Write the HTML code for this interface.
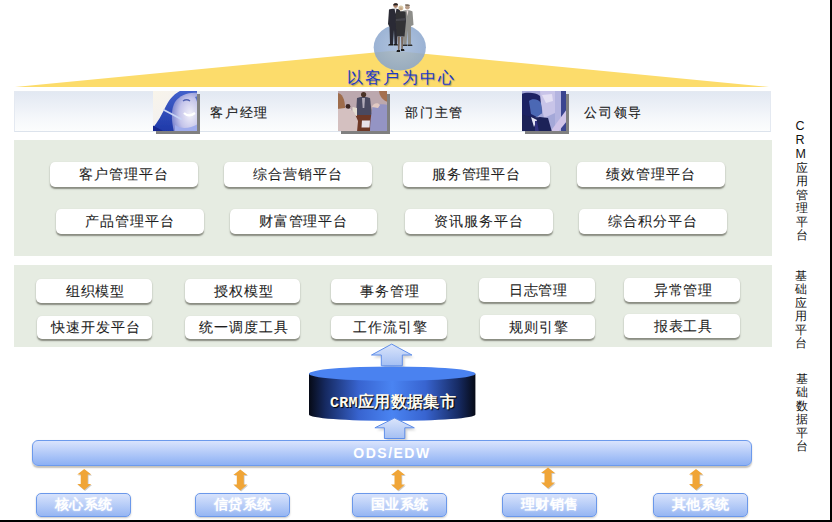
<!DOCTYPE html>
<html><head><meta charset="utf-8">
<style>
html,body{margin:0;padding:0;background:#fff;}
body{width:832px;height:522px;position:relative;overflow:hidden;font-family:"Liberation Sans",sans-serif;}
.a{position:absolute;}
.bR{position:absolute;right:0;top:0;width:2px;height:522px;background:#000;}
.bB{position:absolute;left:0;bottom:0;width:832px;height:2px;background:#000;}
.bar{position:absolute;left:14px;top:91px;width:755px;height:39px;border:1px solid #e4e9f1;border-bottom-color:#dce3ec;background:linear-gradient(#e2e8f2,#f6f8fb 70%,#fcfdfd);}
.ptxt{position:absolute;top:105px;font-size:13px;letter-spacing:1.8px;color:#1a1a1a;line-height:16px;white-space:nowrap;-webkit-text-stroke:0.15px #1a1a1a;}
.box{position:absolute;left:14px;width:758px;background:#e6ece2;}
.btn{position:absolute;background:#fff;border-radius:5px;box-shadow:0 1.5px 1.5px rgba(60,60,50,0.55);font-size:14px;letter-spacing:0.9px;color:#1e1e1e;text-align:center;white-space:nowrap;-webkit-text-stroke:0.08px #1e1e1e;}
.vt{position:absolute;left:793px;width:16px;font-size:12px;line-height:13.45px;color:#111;text-align:center;}
.sys{position:absolute;top:493px;width:93px;height:22px;border:1px solid #6b98ea;border-radius:5px;background:linear-gradient(#d8e3fc,#96b6f3);color:#fff;font-family:"Liberation Serif",serif;font-weight:bold;font-size:14px;line-height:22px;text-align:center;letter-spacing:0.5px;text-shadow:0 0 2px rgba(255,255,255,0.6);box-shadow:0 1px 2px rgba(0,0,0,0.22);}
</style></head>
<body>
<div class="bR"></div><div class="bB"></div>

<!-- yellow triangle -->
<svg class="a" style="left:0;top:0" width="832" height="100">
  <polygon points="15,87 393,50.7 769,87" fill="#fcdc6b"/>
  <defs><radialGradient id="cg" cx="0.5" cy="0.45" r="0.55"><stop offset="0" stop-color="#a4bad8"/><stop offset="1" stop-color="#88a4cc"/></radialGradient></defs><ellipse cx="399.8" cy="47.3" rx="26.1" ry="23.1" fill="url(#cg)" fill-opacity="0.86"/>
</svg>
<div class="a" style="left:346.5px;top:69px;font-size:16px;letter-spacing:2.4px;color:#1a36cc;line-height:18px;white-space:nowrap;text-shadow:1px 1px 1px rgba(80,80,80,0.5);">以客户为中心</div>

<!-- persona bar -->
<div class="bar"></div>
<div class="ptxt" style="left:210px">客户经理</div>
<div class="ptxt" style="left:405px">部门主管</div>
<div class="ptxt" style="left:584px">公司领导</div>


<!-- photos -->
<svg class="a" style="left:153px;top:91px;overflow:visible" width="44" height="40">
  <defs>
    <linearGradient id="wbg" x1="0" y1="0" x2="1" y2="1"><stop offset="0" stop-color="#f8f4ea"/><stop offset="1" stop-color="#eeeef6"/></linearGradient>
    <linearGradient id="whair" x1="0" y1="0" x2="0" y2="1"><stop offset="0" stop-color="#4462cc"/><stop offset="1" stop-color="#1e38a8"/></linearGradient>
    <radialGradient id="wface" cx="0.7" cy="0.55" r="0.7"><stop offset="0" stop-color="#f2f0fa"/><stop offset="0.6" stop-color="#c4c4ea"/><stop offset="1" stop-color="#8088d0"/></radialGradient>
    <filter id="wb" x="-10%" y="-10%" width="120%" height="120%"><feGaussianBlur stdDeviation="0.6"/></filter>
    <filter id="sb" x="-20%" y="-20%" width="140%" height="140%"><feGaussianBlur stdDeviation="0.5"/></filter>
    <clipPath id="wc"><rect width="44" height="40"/></clipPath>
  </defs>
  <rect x="3" y="3" width="44" height="40" fill="#808080" filter="url(#sb)"/>
  <rect width="44" height="40" fill="url(#wbg)"/>
  <g clip-path="url(#wc)" filter="url(#wb)">
  <path d="M-1,38 C5,31 9,23 13,15 C17,7 22,2 29,-1 L45,-1 L45,41 L-1,41 Z" fill="url(#whair)"/>
  <path d="M45,2 C36,1 27,4 22,11 C18,18 18,28 21,41 L45,41 Z" fill="url(#wface)"/><path d="M42,6 C44,9 45,14 45,18 L45,5 Z" fill="#5a70c8"/>
  <path d="M22,34 C28,38 36,38 45,33 L45,41 L22,41 Z" fill="#a0acec"/>
  <path d="M30,10 C32,8.5 35,8.5 37,10" stroke="#5060b0" stroke-width="1.4" fill="none"/>
  <path d="M31,22 C34,25 38,25 42,22" stroke="#ffffff" stroke-width="2.2" fill="none"/>
  <path d="M11,19 L28,28" stroke="#c8d4f4" stroke-width="1.8" stroke-linecap="round"/>
  <path d="M-1,34 L-1,41 L12,41 Z" fill="#14288e"/>
  </g>
</svg>
<svg class="a" style="left:338px;top:91px;overflow:visible" width="49" height="40">
  <defs><clipPath id="mc"><rect width="49" height="40"/></clipPath></defs>
  <rect x="3" y="3" width="49" height="40" fill="#808080" filter="url(#sb)"/>
  <rect width="49" height="40" fill="#b8a4aa"/>
  <g clip-path="url(#mc)" filter="url(#wb)">
  <rect width="49" height="18" fill="#bca8ae"/>
  <path d="M10,22 L36,22 L36,41 L8,41 Z" fill="#6e3828"/>
  <path d="M19,7 C21,5.5 30,5.5 32,7 L34,24 L18,24 Z" fill="#4a4a60"/>
  <circle cx="25.6" cy="3.6" r="2.6" fill="#4a3026"/>
  <path d="M24,7 L27,7 L26.3,17 L24.7,17 Z" fill="#b0aab8"/>
  <circle cx="10" cy="15.4" r="2.4" fill="#3a2624"/>
  <path d="M8,18 L13,18 L13,24 L7,24 Z" fill="#d8d0d4"/>
  <path d="M14.5,16 L19,17 L19,25 L14.5,24 Z" fill="#e4dcd0"/>
  <path d="M24,29.5 L32,29.5 L31.5,36.6 L23.5,36.6 Z" fill="#e8e2ea"/>
  <path d="M-1,17 C6,16 12,18 16,21 L20,30 L19,41 L-1,41 Z" fill="#d4c0c0"/>
  <path d="M-1,2 C4,2 7,8 7,17 L-1,18 Z" fill="#9e6c4c"/>
  <path d="M35,15 C40,13 46,13 50,14 L50,41 L32,41 C32,32 33,22 35,15 Z" fill="#9494c4"/>
  <path d="M41,-1 L50,-1 L50,11 C46,10 41,6 41,-1 Z" fill="#a47050"/>
  <path d="M34,16 C35,12 40,11 42,14 L40,17 Z" fill="#e2cac2"/>
  </g>
</svg>
<svg class="a" style="left:522px;top:91px;overflow:visible" width="44" height="40">
  <defs><clipPath id="jc"><rect width="44" height="40"/></clipPath></defs>
  <rect x="3" y="3" width="44" height="40" fill="#808080" filter="url(#sb)"/>
  <rect width="44" height="40" fill="#a4a8d8"/>
  <g clip-path="url(#jc)" filter="url(#wb)">
  <path d="M18,0 L33,0 L33,22 L22,27 L19,12 Z" fill="#c8c4e8"/>
  <path d="M20,4 L30,3 L31,10 L24,12 Z" fill="#e4e0f4"/>
  <path d="M33,0 L39,0 L39,40 L33,40 Z" fill="#b4b4e0"/>
  <path d="M39,0 L45,0 L45,40 L39,40 Z" fill="#3a4490"/>
  <path d="M45,18 L45,30 L36,41 L28,41 Z" fill="#d0c4e8"/>
  <path d="M-1,3 C4,1 14,1 18,5 L20,22 L12,27 L-1,26 Z" fill="#1e2264"/>
  <path d="M7,10 C10,7 17,8 19,12 L20,22 L15,26 L9,23 Z" fill="#4c68b4"/>
  <path d="M-1,23 C6,25 12,27 18,26 L26,27 L30,41 L-1,41 Z" fill="#1c2058"/>
  <path d="M9,26 L15,29 L12,36 Z" fill="#e4e4f4"/>
  <path d="M13,30 L15,30 L17,41 L13,41 Z" fill="#303080"/>
  </g>
</svg>
<!-- people -->
<svg class="a" style="left:380px;top:0px" width="40" height="56">
  <defs><filter id="pb" x="-20%" y="-10%" width="140%" height="120%"><feGaussianBlur stdDeviation="0.35"/></filter></defs>
  <g filter="url(#pb)">
  <!-- right man grey -->
  <path d="M22.5,11 C24,10 31,10 32.5,11.5 L33.5,25 L31,26 L31,44.5 L28,44.5 L27.5,30 L26.5,44.5 L23.5,44.5 L23,26 Z" fill="#8e8e8a"/>
  <circle cx="27.4" cy="7.3" r="2.3" fill="#b89c88"/>
  <path d="M25,4.6 C26,4 29,4 30,5.2 L29.5,6 L25.5,6 Z" fill="#807060"/>
  <path d="M26.5,10.5 L28.3,10.5 L27.6,16 Z" fill="#e8dcdc"/>
  <path d="M22.5,44.5 L27,44.5 L27,46 L22,46 Z M27.5,44.5 L32,44.5 L32.5,46 L27.5,46 Z" fill="#2a2a2a"/>
  <!-- left man dark -->
  <path d="M9,9.5 C10.5,8.5 18,8.5 20,9.5 L20,27 L17.5,28 L17,44 L14.5,44 L14,30 L13,44 L10,44 L9.5,27 L8,24 Z" fill="#2c2c34"/>
  <circle cx="15.6" cy="5.6" r="2.3" fill="#b08870"/>
  <path d="M13.2,4.8 C13.5,2.8 17.5,2.6 18,4.6 L17.6,5.2 L13.6,5.4 Z" fill="#282020"/>
  <path d="M14.6,9 L16.4,9 L15.6,14 Z" fill="#e0e0e6"/>
  <path d="M9,44 L13.5,44 L13.5,45.6 L8,45.6 Z M14,44 L17.5,44 L18,45.6 L14,45.6 Z" fill="#1e1e1e"/>
  <!-- woman -->
  <path d="M16,12 C17.5,11 24,11 25.5,12 L26,21 L24.5,36.5 L16.5,36.5 L15.5,21 Z" fill="#303036"/>
  <path d="M16,19 L25.5,18 L25.5,20.5 L16,21 Z" fill="#45454c"/>
  <path d="M17.5,36.5 L20,36.5 L19.5,50 L18,50 Z M21,36.5 L23.5,36.5 L22.8,49 L21.3,49 Z" fill="#7a6a60"/>
  <path d="M17,50 L20,50 L20,52 L16.5,52 Z M21,49 L24,49 L24.5,51 L21,51 Z" fill="#1a1a1a"/>
  <circle cx="20.9" cy="8" r="2.5" fill="#d6c6a4"/>
  <circle cx="20.9" cy="8.8" r="1.5" fill="#c8a888"/>
  </g>
</svg>

<!-- CRM app platform -->
<div class="box" style="top:140px;height:116px"></div>
<div class="btn" style="left:50px;top:162px;width:148px;height:25px;line-height:25px">客户管理平台</div>
<div class="btn" style="left:224px;top:162px;width:148px;height:25px;line-height:25px">综合营销平台</div>
<div class="btn" style="left:403px;top:162px;width:147px;height:25px;line-height:25px">服务管理平台</div>
<div class="btn" style="left:577px;top:162px;width:148px;height:25px;line-height:25px">绩效管理平台</div>
<div class="btn" style="left:56px;top:209px;width:148px;height:25px;line-height:25px">产品管理平台</div>
<div class="btn" style="left:230px;top:209px;width:147px;height:25px;line-height:25px">财富管理平台</div>
<div class="btn" style="left:405px;top:209px;width:148px;height:25px;line-height:25px">资讯服务平台</div>
<div class="btn" style="left:579px;top:209px;width:148px;height:25px;line-height:25px">综合积分平台</div>

<!-- base app platform -->
<div class="box" style="top:265px;height:82px"></div>
<div class="btn" style="box-sizing:border-box;padding-left:3px;left:36px;top:279px;width:116px;height:24px;line-height:24px">组织模型</div>
<div class="btn" style="box-sizing:border-box;padding-left:3px;left:185px;top:279px;width:115px;height:24px;line-height:24px">授权模型</div>
<div class="btn" style="box-sizing:border-box;padding-left:3px;left:331px;top:279px;width:115px;height:24px;line-height:24px">事务管理</div>
<div class="btn" style="box-sizing:border-box;padding-left:3px;left:479px;top:278px;width:116px;height:24px;line-height:24px">日志管理</div>
<div class="btn" style="box-sizing:border-box;padding-left:3px;left:624px;top:278px;width:116px;height:24px;line-height:24px">异常管理</div>
<div class="btn" style="box-sizing:border-box;padding-left:3px;left:37px;top:316px;width:115px;height:23px;line-height:23px">快速开发平台</div>
<div class="btn" style="box-sizing:border-box;padding-left:3px;left:185px;top:316px;width:115px;height:23px;line-height:23px">统一调度工具</div>
<div class="btn" style="box-sizing:border-box;padding-left:3px;left:331px;top:316px;width:116px;height:23px;line-height:23px">工作流引擎</div>
<div class="btn" style="box-sizing:border-box;padding-left:3px;left:480px;top:315px;width:115px;height:24px;line-height:24px">规则引擎</div>
<div class="btn" style="box-sizing:border-box;padding-left:3px;left:624px;top:314px;width:116px;height:24px;line-height:24px">报表工具</div>

<!-- vertical labels -->
<div class="a" style="left:795.5px;top:118.5px;font-size:12.5px;line-height:14px;color:#111;">C<br>R<br>M</div>
<div class="vt" style="top:161.85px;left:793.5px">应<br>用<br>管<br>理<br>平<br>台</div>
<div class="vt" style="top:270px;left:792.5px">基<br>础<br>应<br>用<br>平<br>台</div>
<div class="vt" style="top:372.8px;left:794px">基<br>础<br>数<br>据<br>平<br>台</div>


<!-- blue arrows + cylinder -->
<svg class="a" style="left:290px;top:336px" width="200" height="110">
  <defs>
    <linearGradient id="ag" x1="0" y1="0" x2="0" y2="1">
      <stop offset="0" stop-color="#dbe5fb"/><stop offset="1" stop-color="#a4bff3"/>
    </linearGradient>
    <linearGradient id="cyl" x1="0" y1="0" x2="1" y2="0">
      <stop offset="0" stop-color="#060a16"/>
      <stop offset="0.1" stop-color="#162a62"/>
      <stop offset="0.3" stop-color="#3864d0"/>
      <stop offset="0.5" stop-color="#4a84f2"/>
      <stop offset="0.7" stop-color="#3864d0"/>
      <stop offset="0.9" stop-color="#162a62"/>
      <stop offset="1" stop-color="#060a16"/>
    </linearGradient>
    <filter id="sh" x="-20%" y="-20%" width="140%" height="140%"><feGaussianBlur stdDeviation="0.8"/></filter>
  </defs>
  <!-- arrow 1 -->
  <polygon points="102.7,9.1 122.9,20 113.3,20 113.3,30.8 92.3,30.8 92.3,20 82.5,20" fill="#000" fill-opacity="0.18" filter="url(#sh)" transform="translate(1,1.5)"/>
  <polygon points="101.7,8.1 121.9,19 112.3,19 112.3,29.8 91.3,29.8 91.3,19 81.5,19" fill="url(#ag)" stroke="#5f8ee9" stroke-width="1"/>
  <!-- cylinder -->
  <path d="M19,37.7 L19,78.5 A83.2,6.5 0 0 0 185.4,78.5 L185.4,37.7 Z" fill="url(#cyl)"/>
  <ellipse cx="102.2" cy="37.7" rx="83.2" ry="7.2" fill="#4a82f0"/>
  <!-- arrow 2 -->
  <polygon points="105.5,83 125.3,92.8 115.8,92.8 115.8,103.5 95.4,103.5 95.4,92.8 85.9,92.8" fill="#000" fill-opacity="0.18" filter="url(#sh)" transform="translate(1,1.5)"/>
  <polygon points="104.5,82 124.3,91.8 114.8,91.8 114.8,102.5 94.4,102.5 94.4,91.8 84.9,91.8" fill="url(#ag)" stroke="#5f8ee9" stroke-width="1"/>
</svg>
<div class="a" style="left:330px;top:393px;font-family:'Liberation Serif',serif;font-weight:bold;font-size:16px;letter-spacing:0.35px;line-height:18px;color:#fffbee;white-space:nowrap;text-shadow:1px 1px 1px #000;"><span style="font-family:'Liberation Mono',monospace;font-size:15px;letter-spacing:0.3px">CRM</span>应用数据集市</div>

<!-- ODS bar -->
<div class="a" style="left:32px;top:440px;width:718px;height:24px;border:1px solid #6c9aec;border-radius:6px;background:linear-gradient(#dae4fd,#8cb0f4);box-shadow:0 1.5px 1.5px rgba(60,50,30,0.3);color:#fff;font-size:14px;font-weight:bold;line-height:25px;letter-spacing:1.5px;text-align:center;">ODS/EDW</div>

<svg class="a" style="left:0;top:464px" width="832" height="30"><defs><filter id="osh" x="-50%" y="-50%" width="200%" height="200%"><feGaussianBlur stdDeviation="0.7"/></filter></defs><polygon points="84.25,5.100000000000023 91.25,10.600000000000023 87.75,10.600000000000023 87.75,20.100000000000023 91.25,20.100000000000023 84.25,26.100000000000023 77.25,20.100000000000023 80.75,20.100000000000023 80.75,10.600000000000023 77.25,10.600000000000023" fill="#000" fill-opacity="0.2" filter="url(#osh)" transform="translate(0.8,1)"/><polygon points="84.25,5.100000000000023 91.25,10.600000000000023 87.75,10.600000000000023 87.75,20.100000000000023 91.25,20.100000000000023 84.25,26.100000000000023 77.25,20.100000000000023 80.75,20.100000000000023 80.75,10.600000000000023 77.25,10.600000000000023" fill="#f0a537"/><polygon points="240.3,5.5 247.3,11.0 243.8,11.0 243.8,20.5 247.3,20.5 240.3,26.5 233.3,20.5 236.8,20.5 236.8,11.0 233.3,11.0" fill="#000" fill-opacity="0.2" filter="url(#osh)" transform="translate(0.8,1)"/><polygon points="240.3,5.5 247.3,11.0 243.8,11.0 243.8,20.5 247.3,20.5 240.3,26.5 233.3,20.5 236.8,20.5 236.8,11.0 233.3,11.0" fill="#f0a537"/><polygon points="398,5.5 405,11.0 401.5,11.0 401.5,20.5 405,20.5 398,26.5 391,20.5 394.5,20.5 394.5,11.0 391,11.0" fill="#000" fill-opacity="0.2" filter="url(#osh)" transform="translate(0.8,1)"/><polygon points="398,5.5 405,11.0 401.5,11.0 401.5,20.5 405,20.5 398,26.5 391,20.5 394.5,20.5 394.5,11.0 391,11.0" fill="#f0a537"/><polygon points="548,3.5 555,9.0 551.5,9.0 551.5,18.5 555,18.5 548,24.5 541,18.5 544.5,18.5 544.5,9.0 541,9.0" fill="#000" fill-opacity="0.2" filter="url(#osh)" transform="translate(0.8,1)"/><polygon points="548,3.5 555,9.0 551.5,9.0 551.5,18.5 555,18.5 548,24.5 541,18.5 544.5,18.5 544.5,9.0 541,9.0" fill="#f0a537"/><polygon points="696,5.100000000000023 703,10.600000000000023 699.5,10.600000000000023 699.5,20.100000000000023 703,20.100000000000023 696,26.100000000000023 689,20.100000000000023 692.5,20.100000000000023 692.5,10.600000000000023 689,10.600000000000023" fill="#000" fill-opacity="0.2" filter="url(#osh)" transform="translate(0.8,1)"/><polygon points="696,5.100000000000023 703,10.600000000000023 699.5,10.600000000000023 699.5,20.100000000000023 703,20.100000000000023 696,26.100000000000023 689,20.100000000000023 692.5,20.100000000000023 692.5,10.600000000000023 689,10.600000000000023" fill="#f0a537"/></svg>
<!-- bottom systems -->
<div class="sys" style="left:36px">核心系统</div>
<div class="sys" style="left:195px">信贷系统</div>
<div class="sys" style="left:352px">国业系统</div>
<div class="sys" style="left:502px">理财销售</div>
<div class="sys" style="left:653px">其他系统</div>

</body></html>
